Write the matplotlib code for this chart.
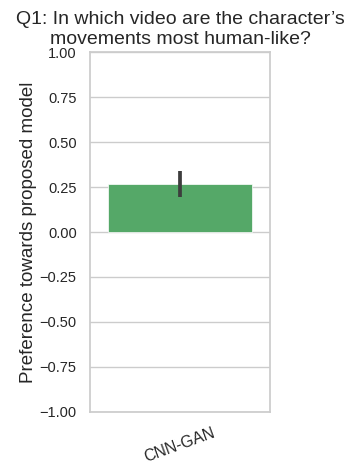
import matplotlib
matplotlib.use("Agg")
import matplotlib.pyplot as plt
import seaborn as sns

# data
models = ["CNN-GAN"]
preference = [0.267]
ci_low = [0.195]
ci_high = [0.337]

sns.set_theme(style="whitegrid")
plt.rcParams['font.family'] = ['Liberation Sans', 'DejaVu Sans']

fig = plt.figure(figsize=(3.61, 4.74), dpi=100)
ax = fig.add_axes([0.249, 0.131, 0.499, 0.759])

x = list(range(len(models)))
ax.bar(x, preference, width=0.8, color="#55a868", edgecolor="white", linewidth=0.5, zorder=2)
for xi, lo, hi in zip(x, ci_low, ci_high):
    ax.plot([xi, xi], [lo, hi], color="#3d3d3d", linewidth=2.7, solid_capstyle="butt", zorder=3)

ax.set_xlim(-0.5, len(models) - 0.5)
ax.set_ylim(-1.0, 1.0)
ax.set_yticks([-1.0, -0.75, -0.5, -0.25, 0.0, 0.25, 0.5, 0.75, 1.0])
ax.set_yticklabels([f"{v:.2f}".replace("-", "\u2212") for v in ax.get_yticks()], fontsize=10.5)
ax.set_xticks(x)
ax.set_xticklabels(models, rotation=20, fontsize=11.5)
ax.xaxis.grid(False)
ax.set_axisbelow(True)
ax.set_ylabel("Preference towards proposed model", fontsize=13.5, labelpad=2)
ax.set_title("Q1: In which video are the character\u2019s\nmovements most human-like?",
             fontsize=14, pad=6)

fig.savefig("out.png", dpi=100)
